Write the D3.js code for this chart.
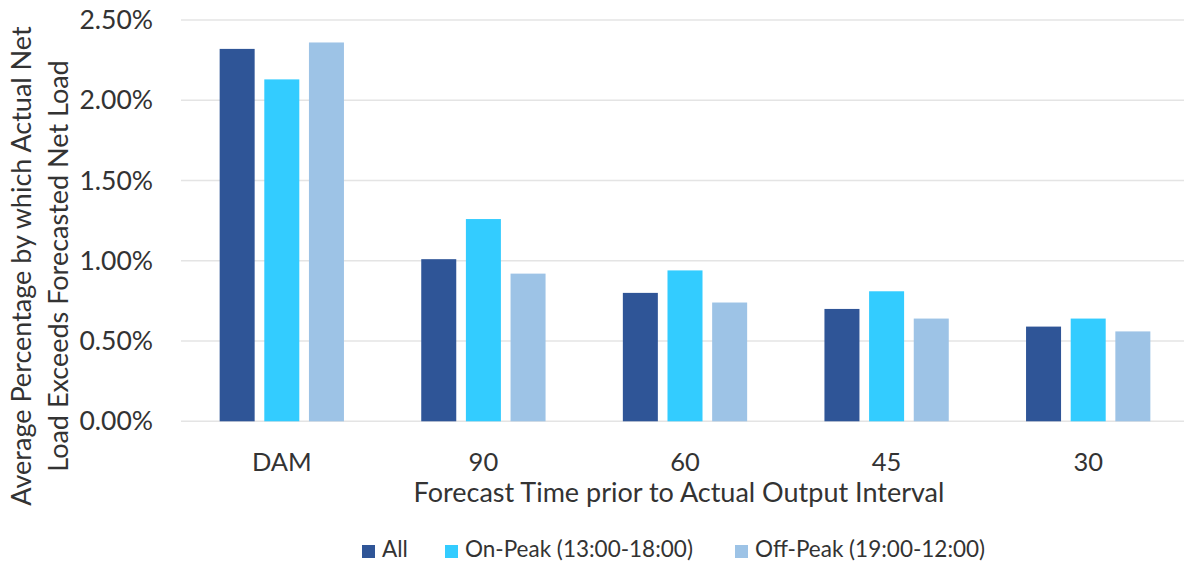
<!DOCTYPE html>
<html>
<head>
<meta charset="utf-8">
<script src="https://cdn.jsdelivr.net/npm/d3@7"></script>
<style>
  html, body { margin: 0; padding: 0; background: #ffffff; }
  svg { display: block; }
  text { font-family: Lato, "Open Sans", sans-serif; fill: #333333; }
</style>
</head>
<body>
<svg id="chart" width="1184" height="563"></svg>
<script>
// Forecast horizons (minutes before the interval; DAM = day-ahead market)
const categories = ["DAM", "90", "60", "45", "30"];
const seriesNames = ["All", "On-Peak (13:00-18:00)", "Off-Peak (19:00-12:00)"];
// Average % by which actual net load exceeds forecast
const allHours = [2.32, 1.01, 0.80, 0.70, 0.59];
const onPeak   = [2.13, 1.26, 0.94, 0.81, 0.64];
const offPeak  = [2.36, 0.92, 0.74, 0.64, 0.56];
const yTicks = [0, 0.5, 1.0, 1.5, 2.0, 2.5];
const colors = ["#2F5597", "#33CCFF", "#9DC3E6"];

const seriesValues = [allHours, onPeak, offPeak];
const rows = categories.map((c, i) => ({
  category: c,
  values: seriesNames.map((s, j) => ({ series: s, value: seriesValues[j][i] }))
}));

const svg = d3.select("#chart");
const plot = { left: 181, right: 1189, top: 20, bottom: 421.3 };

const y = d3.scaleLinear().domain([0, 2.5]).range([plot.bottom, plot.top]);
const x0 = d3.scaleBand().domain(categories).range([plot.left, plot.right])
  .paddingInner(0.3834).paddingOuter(0.1917);
const x1 = d3.scaleBand().domain(seriesNames).range([0, x0.bandwidth()])
  .paddingInner(0.216).paddingOuter(0);
const color = d3.scaleOrdinal().domain(seriesNames).range(colors);

// Horizontal gridlines
svg.append("g").selectAll("line").data(yTicks).join("line")
  .attr("x1", plot.left).attr("x2", plot.right)
  .attr("y1", d => y(d)).attr("y2", d => y(d))
  .attr("stroke", "#e4e4e4").attr("stroke-width", 1.4);

// Y axis tick labels
const yAxis = d3.axisLeft(y).tickValues(yTicks).tickSize(0).tickPadding(0)
  .tickFormat(d => d.toFixed(2) + "%");
svg.append("g").attr("transform", "translate(153,0)").call(yAxis)
  .call(g => g.select(".domain").remove())
  .selectAll("text").style("font-size", "26.5px").attr("fill", "#333")
  .attr("font-family", "Lato, sans-serif");

// Bars
svg.append("g").selectAll("g").data(rows).join("g")
  .attr("transform", d => `translate(${x0(d.category)},0)`)
  .selectAll("rect").data(d => d.values).join("rect")
  .attr("x", d => x1(d.series))
  .attr("width", x1.bandwidth())
  .attr("y", d => y(d.value))
  .attr("height", d => y(0) - y(d.value))
  .attr("fill", d => color(d.series));

// X axis tick labels
const xAxis = d3.axisBottom(x0).tickSize(0).tickPadding(0);
svg.append("g").attr("transform", `translate(0,${471})`).call(xAxis)
  .call(g => g.select(".domain").remove())
  .selectAll("text").attr("dy", 0).style("font-size", "25.5px").attr("fill", "#333")
  .attr("font-family", "Lato, sans-serif");

// Axis titles
svg.append("text").attr("x", 679).attr("y", 502)
  .attr("text-anchor", "middle").style("font-size", "27px")
  .text("Forecast Time prior to Actual Output Interval");

const yTitle = svg.append("text")
  .attr("transform", "translate(0,266) rotate(-90)")
  .attr("text-anchor", "middle").style("font-size", "27px");
yTitle.append("tspan").attr("x", 0).attr("y", 31).text("Average Percentage by which Actual Net");
yTitle.append("tspan").attr("x", 0).attr("y", 68).text("Load Exceeds Forecasted Net Load");

// Legend
const legendX = [362, 445, 735];
const legend = svg.append("g").selectAll("g").data(seriesNames).join("g")
  .attr("transform", (d, i) => `translate(${legendX[i]},544)`);
legend.append("rect").attr("width", 13).attr("height", 13).attr("y", 1)
  .attr("fill", d => color(d));
legend.append("text").attr("x", 20).attr("y", 13)
  .style("font-size", "22.5px").text(d => d);
</script>
</body>
</html>
